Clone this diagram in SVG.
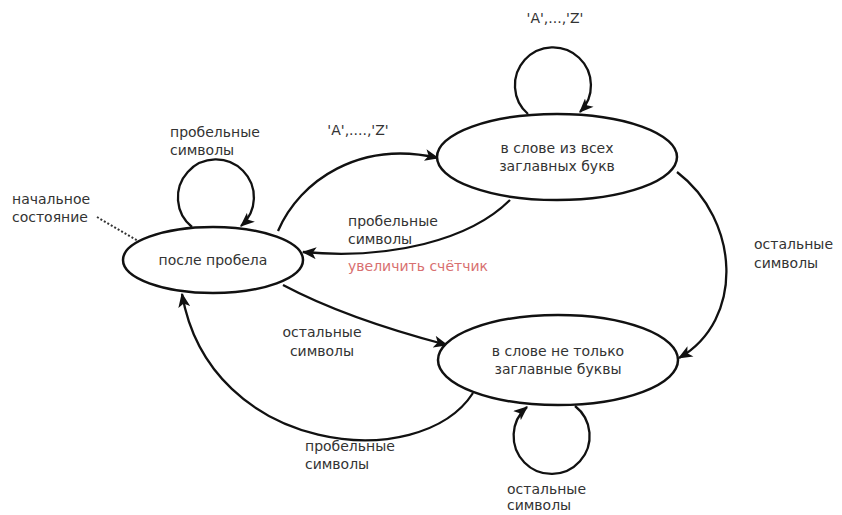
<svg xmlns="http://www.w3.org/2000/svg" width="842" height="515" viewBox="0 0 842 515">
<style>
.n{fill:#fff;stroke:#111;stroke-width:2.5}
.t{font-family:"DejaVu Sans",sans-serif;font-size:14px;fill:#333}
.e{fill:none;stroke:#111;stroke-width:2.3;marker-end:url(#arr)}
.r{fill:#d87070}
</style>
<defs>
<marker id="arr" viewBox="0 0 12 10" markerWidth="15" markerHeight="12" refX="11" refY="5" orient="auto" markerUnits="userSpaceOnUse">
<path d="M0,0 L12,5 L0,10 L3,5 z" fill="#111"/>
</marker>
</defs>
<rect width="842" height="515" fill="#fff"/>
<g id="connectors">
<path class="e" d="M 192 227 A 38 38 0 1 1 241 226"/>
<path class="e" d="M 528 114 A 38 38 0 1 1 580 112"/>
<path class="e" d="M 575 406 A 38 38 0 1 1 527 407"/>
<path class="e" d="M 278 231 C 300 180, 360 140, 438 158"/>
<path class="e" d="M 510 200 C 470 240, 390 260, 303 252"/>
<path class="e" d="M 677 172 C 740 220, 745 320, 679 358"/>
<path class="e" d="M 283 285 C 330 310, 390 330, 447 345"/>
<path class="e" d="M 473 393 C 420 475, 210 455, 182 294"/>
<path d="M 97 217 L 150 248" fill="none" stroke="#333" stroke-width="2" stroke-dasharray="2,2"/>
</g>
<g id="n1">
<ellipse class="n" cx="213" cy="260" rx="90" ry="33"/>
<text class="t" x="213" y="265" text-anchor="middle">после пробела</text>
</g>
<g id="n2">
<ellipse class="n" cx="557" cy="157" rx="120" ry="43"/>
<text class="t" x="557" y="153" text-anchor="middle">в слове из всех</text>
<text class="t" x="557" y="171" text-anchor="middle">заглавных букв</text>
</g>
<g id="n3">
<ellipse class="n" cx="558" cy="360" rx="120" ry="45"/>
<text class="t" x="558" y="356" text-anchor="middle">в слове не только</text>
<text class="t" x="558" y="374" text-anchor="middle">заглавные буквы</text>
</g>
<g id="labels">
<text class="t" x="170" y="137">пробельные</text>
<text class="t" x="170" y="155">символы</text>
<text class="t" x="12" y="204">начальное</text>
<text class="t" x="12" y="222">состояние</text>
<text class="t" x="555" y="23" text-anchor="middle">'A',...,'Z'</text>
<text class="t" x="358" y="135" text-anchor="middle">'A',....,'Z'</text>
<text class="t" x="348" y="226">пробельные</text>
<text class="t" x="348" y="244">символы</text>
<text class="t r" x="348" y="271">увеличить счётчик</text>
<text class="t" x="754" y="249">остальные</text>
<text class="t" x="754" y="268">символы</text>
<text class="t" x="322" y="337" text-anchor="middle">остальные</text>
<text class="t" x="322" y="356" text-anchor="middle">символы</text>
<text class="t" x="305" y="451">пробельные</text>
<text class="t" x="305" y="469">символы</text>
<text class="t" x="507" y="494">остальные</text>
<text class="t" x="507" y="510">символы</text>
</g>
</svg>
